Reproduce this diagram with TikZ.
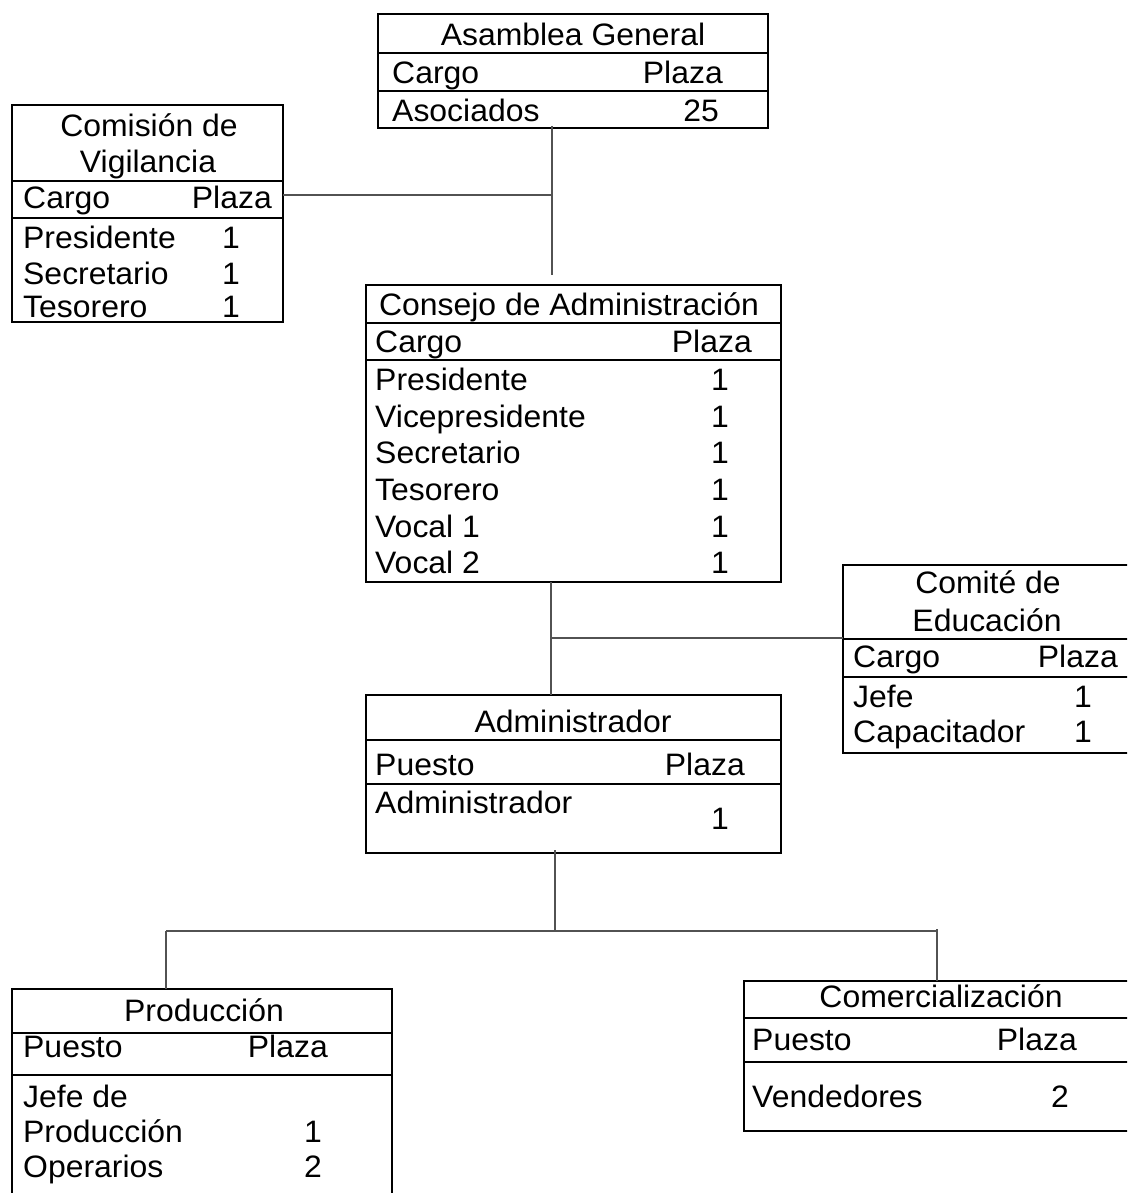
\documentclass[tikz,border=0pt]{standalone}
\usepackage{fontspec}
\setmainfont{Liberation Sans}[FakeStretch=1.03]
\usetikzlibrary{calc}
\begin{document}
\begin{tikzpicture}[x=1pt,y=-1pt,
  every node/.style={font=\fontsize{31}{37}\selectfont},
  box/.style={draw=black, line width=2.3pt, inner sep=0pt, outer sep=0pt, anchor=north west},
  conn/.style={draw=black!68, line width=1.4pt},
  divider/.style={draw=black, line width=2.3pt},
  tl/.style={inner sep=0pt, anchor=base west},
  tr/.style={inner sep=0pt, anchor=base east},
  tc/.style={inner sep=0pt, anchor=base}]
\useasboundingbox (0,0) rectangle (1127,1193);
\clip (0,0) rectangle (1127,1193);

% ---------- boxes ----------
\node[box, minimum width=390pt, minimum height=114pt] (ag) at (378,14) {};
\node[box, minimum width=271pt, minimum height=217pt] (cv) at (12,105) {};
\node[box, minimum width=415pt, minimum height=297pt] (ca) at (366,285) {};
\node[box, minimum width=290pt, minimum height=188pt] (ce) at (843,565) {};
\node[box, minimum width=415pt, minimum height=158pt] (ad) at (366,695) {};
\node[box, minimum width=380pt, minimum height=240pt] (pr) at (12,989) {};
\node[box, minimum width=394pt, minimum height=150pt] (co) at (744,981) {};

% ---------- dividers ----------
\draw[divider] (378,53) -- (768,53);
\draw[divider] (378,91) -- (768,91);
\draw[divider] (12,181) -- (283,181);
\draw[divider] (12,218) -- (283,218);
\draw[divider] (366,323) -- (781,323);
\draw[divider] (366,360) -- (781,360);
\draw[divider] (843,639) -- (1133,639);
\draw[divider] (843,677) -- (1133,677);
\draw[divider] (366,740) -- (781,740);
\draw[divider] (366,784) -- (781,784);
\draw[divider] (12,1033) -- (392,1033);
\draw[divider] (12,1075) -- (392,1075);
\draw[divider] (744,1018) -- (1138,1018);
\draw[divider] (744,1062) -- (1138,1062);

% ---------- connectors ----------
\coordinate (t1) at (552,126);
\coordinate (j1) at (552,195);
\coordinate (b1) at (552,275);
\draw[conn] (t1) -- (b1);
\draw[conn] (cv.east |- j1) -- (j1);

\coordinate (j2) at (551,638);
\draw[conn] (ca.south -| j2) -- (ad.north -| j2);
\draw[conn] (j2) -- (ce.west |- j2);

\coordinate (j3) at (555,931);
\coordinate (jl) at (166,931);
\coordinate (jr) at (937,931);
\draw[conn] ($(ad.south -| j3)+(0,-3)$) -- (j3);
\draw[conn] (jl) -- (jr);
\draw[conn] (jl) -- (pr.north -| jl);
\draw[conn] ($(jr)+(0,-2)$) -- (co.north -| jr);

% ---------- Asamblea General ----------
\node[tc] (ag-t) at (573,46) {Asamblea General};
\node[tl] (ag-c) at (392,84) {Cargo};
\node[tr] (ag-p) at (723,84) {Plaza};
\node[tl] (ag-r1) at (392,122) {Asociados};
\node[tc] (ag-v1) at (701,122) {25};

% ---------- Comision de Vigilancia ----------
\node[tc] (cv-t1) at (149,137) {Comisión de};
\node[tc] (cv-t2) at (148,173) {Vigilancia};
\node[tl] (cv-c) at (23,208) {Cargo};
\node[tr] (cv-p) at (272,208) {Plaza};
\node[tl] (cv-r1) at (23,248) {Presidente};
\node[tl] (cv-r2) at (23,284) {Secretario};
\node[tl] (cv-r3) at (23,317) {Tesorero};
\node[tc] (cv-v1) at (231,248) {1};
\node[tc] (cv-v2) at (231,284) {1};
\node[tc] (cv-v3) at (231,317) {1};

% ---------- Consejo de Administracion ----------
\node[tc] (ca-t) at (569,315) {Consejo de Administración};
\node[tl] (ca-c) at (375,352) {Cargo};
\node[tr] (ca-p) at (752,352) {Plaza};
\node[tl] (ca-r1) at (375,390) {Presidente};
\node[tl] (ca-r2) at (375,427) {Vicepresidente};
\node[tl] (ca-r3) at (375,463) {Secretario};
\node[tl] (ca-r4) at (375,500) {Tesorero};
\node[tl] (ca-r5) at (375,537) {Vocal 1};
\node[tl] (ca-r6) at (375,573) {Vocal 2};
\node[tc] (ca-v1) at (720,390) {1};
\node[tc] (ca-v2) at (720,427) {1};
\node[tc] (ca-v3) at (720,463) {1};
\node[tc] (ca-v4) at (720,500) {1};
\node[tc] (ca-v5) at (720,537) {1};
\node[tc] (ca-v6) at (720,573) {1};

% ---------- Comite de Educacion ----------
\node[tc] (ce-t1) at (988,593) {Comité de};
\node[tc] (ce-t2) at (987,631) {Educación};
\node[tl] (ce-c) at (853,667) {Cargo};
\node[tr] (ce-p) at (1118,667) {Plaza};
\node[tl] (ce-r1) at (853,707) {Jefe};
\node[tl] (ce-r2) at (853,742) {Capacitador};
\node[tc] (ce-v1) at (1083,707) {1};
\node[tc] (ce-v2) at (1083,742) {1};

% ---------- Administrador ----------
\node[tc] (ad-t) at (573,732) {Administrador};
\node[tl] (ad-c) at (375,775) {Puesto};
\node[tr] (ad-p) at (745,775) {Plaza};
\node[tl] (ad-r1) at (375,813) {Administrador};
\node[tc] (ad-v1) at (720,829) {1};

% ---------- Produccion ----------
\node[tc] (pr-t) at (204,1021) {Producción};
\node[tl] (pr-c) at (23,1057) {Puesto};
\node[tr] (pr-p) at (328,1057) {Plaza};
\node[tl] (pr-r1a) at (23,1107) {Jefe de};
\node[tl] (pr-r1b) at (23,1142) {Producción};
\node[tl] (pr-r2) at (23,1177) {Operarios};
\node[tc] (pr-v1) at (313,1142) {1};
\node[tc] (pr-v2) at (313,1177) {2};

% ---------- Comercializacion ----------
\node[tc] (co-t) at (941,1007) {Comercialización};
\node[tl] (co-c) at (752,1050) {Puesto};
\node[tr] (co-p) at (1077,1050) {Plaza};
\node[tl] (co-r1) at (752,1107) {Vendedores};
\node[tc] (co-v1) at (1060,1107) {2};
\end{tikzpicture}
\end{document}
